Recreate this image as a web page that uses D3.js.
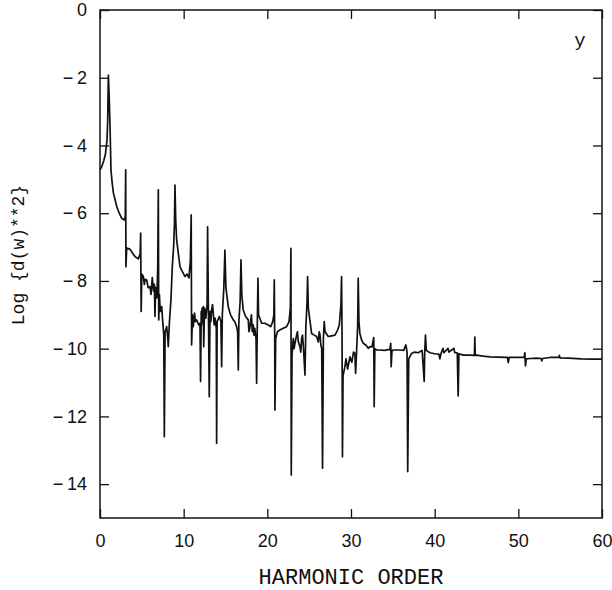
<!DOCTYPE html>
<html>
<head>
<meta charset="utf-8">
<script src="https://cdn.jsdelivr.net/npm/d3@7"></script>
<style>
  body { margin: 0; background: #fff; }
  svg { display: block; }
</style>
</head>
<body>
<div class="spectrum"></div>
<script>
// Harmonic spectrum: harmonic order and log10 of |d(w)|^2
// (one row of each array covers the same stretch of harmonics)
var harmonic = [
    0.00, 0.20, 0.45, 0.65, 0.84, 0.92, 1.00, 1.10, 1.20, 1.31, 1.45, 1.60, 2.00, 2.30, 2.60, 2.90, 3.02,
    3.07, 3.10, 3.19, 3.58, 3.90, 4.18, 4.58, 4.80, 4.86, 4.92, 5.00,
    5.18, 5.30, 5.40, 5.58, 5.75, 5.97, 6.10, 6.25, 6.40, 6.50, 6.57, 6.65, 6.80, 6.90, 6.97, 7.02,
    7.10, 7.20, 7.37, 7.50, 7.62, 7.69, 7.78, 7.97, 8.10, 8.16, 8.30, 8.48, 8.64, 8.80, 8.90, 8.96,
    9.05, 9.16, 9.56, 9.80, 10.16, 10.40, 10.63, 10.80, 10.90, 10.95, 11.05,
    11.15, 11.30, 11.40, 11.55, 11.80, 11.95, 12.02, 12.10, 12.15, 12.20, 12.28, 12.35, 12.40, 12.50, 12.65, 12.80, 12.86, 12.95,
    13.06, 13.15, 13.25, 13.34, 13.45, 13.54, 13.65, 13.75, 13.90, 13.94, 14.00, 14.26, 14.45, 14.54, 14.62, 14.80, 14.93,
    15.05, 15.33, 15.60, 15.93, 16.10, 16.33, 16.45, 16.53, 16.60, 16.75, 16.85, 16.95,
    17.12, 17.40, 17.72, 17.80, 17.90, 18.05, 18.10, 18.20, 18.32, 18.40, 18.50, 18.65, 18.72, 18.80, 18.88, 18.95,
    19.32, 19.70, 20.10, 20.40, 20.65, 20.78, 20.83, 20.88, 20.91, 21.00,
    21.20, 21.50, 21.90, 22.30, 22.60, 22.75, 22.82, 22.86, 22.95,
    23.10, 23.20, 23.30, 23.50, 23.60, 23.70, 23.90, 24.00, 24.10, 24.20, 24.30, 24.50, 24.60, 24.75, 24.81, 24.90,
    25.29, 25.60, 25.89, 26.10, 26.20, 26.30, 26.40, 26.50, 26.60, 26.70, 26.80, 26.90,
    27.28, 27.70, 28.08, 28.40, 28.60, 28.80, 28.87, 28.93, 28.98, 29.05,
    29.27, 29.40, 29.60, 29.87, 30.10, 30.30, 30.47, 30.55, 30.65, 30.80, 30.86, 30.95,
    31.06, 31.26, 31.46, 31.80, 32.06, 32.26, 32.50, 32.72, 32.77, 32.85, 33.05, 33.45, 34.00, 34.65, 34.75, 34.80, 34.90,
    35.30, 35.84, 36.30, 36.56, 36.70, 36.78, 36.90, 37.24, 37.60, 38.03, 38.50, 38.75, 38.80, 38.90, 39.00, 39.43,
    40.00, 40.50, 40.62, 40.75, 41.00, 41.10, 41.60, 41.70, 42.30, 42.40, 42.70, 42.81, 42.90, 43.40, 44.20, 44.75, 44.80, 44.85,
    45.00, 45.80, 46.60, 47.50, 48.70, 48.80, 48.90, 49.80, 50.70, 50.78, 50.85, 50.95, 51.40, 52.20, 52.75, 52.80, 52.90,
    53.80, 54.85, 54.90, 54.98, 56.00, 57.50, 58.80, 60.00
];
var logPower = [
    -4.72, -4.63, -4.45, -4.25, -3.84, -3.25, -1.92, -2.60, -3.44, -4.72, -5.10, -5.40, -5.80, -6.00, -6.15, -6.20, -6.10,
    -4.72, -7.58, -7.03, -7.06, -7.18, -7.28, -7.35, -7.20, -6.59, -8.90, -7.80,
    -7.87, -8.10, -7.95, -7.97, -8.20, -8.17, -8.40, -7.90, -8.30, -8.10, -9.05, -8.20, -8.50, -7.60, -5.31, -9.15,
    -8.40, -8.90, -8.76, -9.20, -9.60, -12.60, -9.50, -9.35, -9.70, -9.94, -9.20, -8.56, -7.58, -6.99, -6.30, -5.17,
    -6.20, -6.79, -7.58, -7.70, -7.87, -7.80, -7.91, -7.40, -6.05, -9.89, -9.00,
    -9.35, -8.95, -9.20, -9.15, -9.30, -9.25, -10.97, -8.90, -9.30, -8.80, -9.20, -8.76, -9.94, -8.80, -9.10, -8.70, -6.40, -8.70,
    -11.42, -8.90, -9.20, -8.86, -8.70, -8.96, -9.30, -9.10, -9.40, -12.79, -9.20, -9.05, -9.20, -10.53, -9.00, -8.20, -7.09,
    -8.20, -8.76, -9.00, -9.15, -9.20, -9.35, -9.50, -10.63, -9.20, -8.60, -7.38, -8.40,
    -8.86, -9.05, -9.15, -9.50, -9.40, -9.10, -9.00, -9.50, -9.30, -9.60, -9.40, -9.70, -11.02, -9.30, -7.92, -9.00,
    -9.25, -9.25, -9.30, -9.35, -9.20, -9.00, -7.97, -9.60, -11.81, -9.70,
    -9.50, -9.45, -9.40, -9.35, -9.20, -8.80, -7.04, -13.73, -10.20,
    -9.70, -10.00, -9.84, -9.60, -9.50, -9.80, -9.94, -10.10, -9.70, -9.60, -9.90, -10.78, -9.40, -8.60, -7.87, -8.80,
    -9.55, -9.60, -9.64, -9.80, -9.50, -9.60, -9.90, -10.00, -13.53, -9.70, -9.20, -9.50,
    -9.64, -9.62, -9.60, -9.45, -9.30, -8.70, -7.87, -9.60, -13.19, -10.80,
    -10.53, -10.30, -10.60, -10.24, -10.40, -10.10, -10.14, -10.73, -10.20, -9.30, -7.92, -9.20,
    -9.55, -9.74, -9.84, -9.90, -9.99, -9.94, -9.95, -9.67, -11.71, -10.00, -10.04, -10.04, -10.05, -10.02, -9.84, -10.53, -10.05,
    -10.04, -10.04, -10.05, -9.89, -10.10, -13.63, -10.30, -10.14, -10.10, -10.12, -10.05, -10.97, -10.20, -9.60, -10.05, -10.12,
    -10.15, -10.16, -10.30, -10.15, -9.99, -10.12, -9.99, -10.10, -9.99, -10.12, -10.12, -11.40, -10.15, -10.19, -10.19, -10.20, -9.66, -10.20,
    -10.19, -10.22, -10.24, -10.25, -10.26, -10.41, -10.26, -10.26, -10.26, -10.12, -10.51, -10.30, -10.29, -10.28, -10.29, -10.36, -10.29,
    -10.26, -10.26, -10.20, -10.27, -10.28, -10.30, -10.31, -10.31
];
var xTicks = [0, 10, 20, 30, 40, 50, 60];
var yTicks = [0, -2, -4, -6, -8, -10, -12, -14];
var xTitle = "HARMONIC ORDER";
var yTitle = "Log {d(w)**2}";
var panelLabel = "y";

var width = 612;
var height = 590;
var margin = ({ top: 10, right: 10, bottom: 72, left: 100 });

var n = Math.min(harmonic.length, logPower.length);
var data = harmonic.slice(0, n).map((h, i) => ({ h: h, v: logPower[i] }));

var x = d3.scaleLinear([0, 60], [margin.left, width - margin.right]);
var y = d3.scaleLinear([-15, 0], [height - margin.bottom, margin.top]);

const svg = d3.select("div.spectrum")
    .append("svg")
    .attr("width", width)
    .attr("height", height);

// Minus sign set a bit apart from the digits, like the original
var yFormat = d => d === 0 ? "0" : "\u2212\u2009" + Math.abs(d);

// Bottom axis with labels, ticks pointing inward
svg.append("g")
    .attr("transform", `translate(0, ${y(-15)})`)
    .call(d3.axisBottom(x).tickValues(xTicks).tickSize(-9).tickSizeOuter(0).tickPadding(16))
    .call(g => g.select(".domain").remove());

// Left axis with labels
svg.append("g")
    .attr("transform", `translate(${x(0)}, 0)`)
    .call(d3.axisLeft(y).tickValues(yTicks).tickFormat(yFormat).tickSize(-9).tickSizeOuter(0).tickPadding(13))
    .call(g => g.select(".domain").remove());

// Top and right axes: ticks only
svg.append("g")
    .attr("transform", `translate(0, ${y(0)})`)
    .call(d3.axisTop(x).tickValues(xTicks).tickSize(-9).tickSizeOuter(0).tickFormat(""))
    .call(g => g.select(".domain").remove());
svg.append("g")
    .attr("transform", `translate(${x(60)}, 0)`)
    .call(d3.axisRight(y).tickValues(yTicks).tickSize(-9).tickSizeOuter(0).tickFormat(""))
    .call(g => g.select(".domain").remove());

svg.selectAll(".tick line").attr("stroke", "#111").attr("stroke-width", 1.3);
svg.selectAll(".tick text")
    .attr("font-family", "'Liberation Sans', Arial, sans-serif")
    .attr("font-size", 18)
    .attr("fill", "#111");

// Frame
svg.append("rect")
    .attr("x", x(0))
    .attr("y", y(0))
    .attr("width", x(60) - x(0))
    .attr("height", y(-15) - y(0))
    .attr("fill", "none")
    .attr("stroke", "#111")
    .attr("stroke-width", 1.5);

// The spectrum
var line = d3.line().x(d => x(d.h)).y(d => y(d.v));
svg.append("path")
    .datum(data)
    .attr("fill", "none")
    .attr("stroke", "#111")
    .attr("stroke-width", 1.7)
    .attr("stroke-linejoin", "round")
    .attr("d", line);

// Titles
svg.append("text")
    .attr("x", (x(0) + x(60)) / 2)
    .attr("y", 584)
    .attr("text-anchor", "middle")
    .attr("font-family", "'Liberation Mono', 'Courier New', monospace")
    .attr("font-size", 22)
    .attr("fill", "#111")
    .text(xTitle);

svg.append("text")
    .attr("transform", `translate(24, 255) rotate(-90)`)
    .attr("text-anchor", "middle")
    .attr("font-family", "'Liberation Mono', 'Courier New', monospace")
    .attr("font-size", 18)
    .attr("fill", "#111")
    .text(yTitle);

svg.append("text")
    .attr("x", 580)
    .attr("y", 46)
    .attr("text-anchor", "middle")
    .attr("font-family", "'Liberation Mono', 'Courier New', monospace")
    .attr("font-size", 19)
    .attr("fill", "#111")
    .text(panelLabel);
</script>
</body>
</html>
